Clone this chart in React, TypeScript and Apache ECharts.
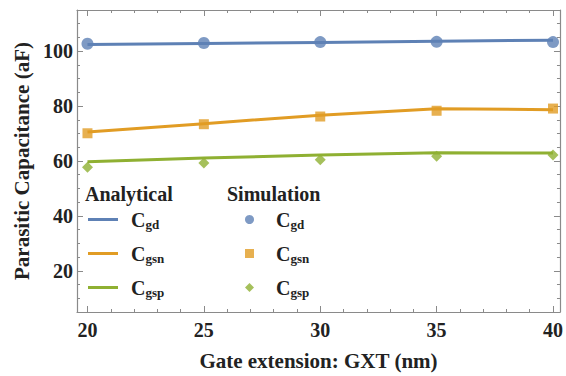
import React, { useEffect, useRef } from "react";
import * as echarts from "echarts";

const gateExtension = [20, 25, 30, 35, 40];
const xTickLabels = [20, 25, 30, 35, 40];
const xMinorTicks = [21, 22, 23, 24, 26, 27, 28, 29, 31, 32, 33, 34, 36, 37, 38, 39];
const yTickLabels = [20, 40, 60, 80, 100];
const yMinorTicks = [10, 15, 25, 30, 35, 45, 50, 55, 65, 70, 75, 85, 90, 95, 105, 110];

const analyticalCgd = [102.4, 102.8, 103.2, 103.6, 104.0];
const analyticalCgsn = [70.6, 73.6, 76.7, 79.0, 78.7];
const analyticalCgsp = [59.7, 61.1, 62.2, 63.0, 62.9];

const simulationCgd = [102.7, 103.0, 103.3, 103.4, 103.3];
const simulationCgsn = [70.1, 73.4, 76.2, 78.3, 79.1];
const simulationCgsp = [57.7, 59.3, 60.5, 61.7, 62.2];

const BLUE = "#5E81B5";
const ORANGE = "#E19C24";
const GREEN = "#8FB032";
const FONT = "Liberation Serif";
const AXIS_COLOR = "#8a8a8a";

const pairs = (ys: number[]) => gateExtension.map((x, i) => [x, ys[i]]);

const subLabel: Record<string, string> = {
  "Cgd (analytical)": "gd",
  "Cgsn (analytical)": "gsn",
  "Cgsp (analytical)": "gsp",
  "Cgd (simulation)": "gd",
  "Cgsn (simulation)": "gsn",
  "Cgsp (simulation)": "gsp",
};

export default function App() {
  const ref = useRef<HTMLDivElement>(null);
  useEffect(() => {
    if (!ref.current) return;
    const chart = echarts.init(ref.current, undefined, { renderer: "svg" });
    const xMin = 19.55;
    const xMax = 40.3;
    const yMin = 5;
    const yMax = 115;
    const axisLine = { show: true, lineStyle: { color: AXIS_COLOR, width: 1.2 } };
    const mkX = (position: "bottom" | "top", ticks: number[], len: number, labels: boolean, line: boolean) => ({
      type: "value",
      position,
      min: xMin,
      max: xMax,
      gridIndex: 0,
      axisLine: line ? axisLine : { show: false },
      axisTick: { show: true, inside: true, length: len, customValues: ticks, lineStyle: { color: AXIS_COLOR } },
      axisLabel: labels
        ? { show: true, customValues: xTickLabels, fontFamily: FONT, fontWeight: "bold", fontSize: 20, color: "#222", margin: 8 }
        : { show: false },
      splitLine: { show: false },
      name: labels ? "Gate extension: GXT (nm)" : "",
      nameLocation: "middle",
      nameGap: 38,
      nameTextStyle: { fontFamily: FONT, fontWeight: "bold", fontSize: 21, color: "#222" },
    });
    const mkY = (position: "left" | "right", ticks: number[], len: number, labels: boolean, line: boolean) => ({
      type: "value",
      position,
      min: yMin,
      max: yMax,
      gridIndex: 0,
      axisLine: line ? axisLine : { show: false },
      axisTick: { show: true, inside: true, length: len, customValues: ticks, lineStyle: { color: AXIS_COLOR } },
      axisLabel: labels
        ? { show: true, customValues: yTickLabels, fontFamily: FONT, fontWeight: "bold", fontSize: 20, color: "#222", margin: 4 }
        : { show: false },
      splitLine: { show: false },
      name: labels ? "Parasitic Capacitance (aF)" : "",
      nameLocation: "middle",
      nameGap: 40,
      nameTextStyle: { fontFamily: FONT, fontWeight: "bold", fontSize: 21, color: "#222" },
    });

    const richText = {
      c: { fontFamily: FONT, fontWeight: "bold", fontSize: 20, color: "#222", lineHeight: 24 },
      s: { fontFamily: FONT, fontWeight: "bold", fontSize: 13, color: "#222", lineHeight: 24, padding: [10, 0, 0, 0] },
    };

    const lineSeries = (name: string, data: number[], color: string) => ({
      name,
      type: "line",
      data: pairs(data),
      symbol: "none",
      lineStyle: { color, width: 3 },
      itemStyle: { color },
      z: 2,
    });
    const scatterSeries = (name: string, data: number[], color: string, symbol: string, size: number) => ({
      name,
      type: "scatter",
      data: pairs(data),
      symbol,
      symbolSize: size,
      itemStyle: { color },
      z: 3,
    });

    chart.setOption({
      animation: false,
      backgroundColor: "#ffffff",
      grid: { left: 77, right: 2, top: 10, bottom: 63 },
      xAxis: [
        mkX("bottom", xTickLabels, 6, true, true),
        mkX("bottom", xMinorTicks, 3, false, false),
        mkX("top", xTickLabels, 6, false, true),
        mkX("top", xMinorTicks, 3, false, false),
      ],
      yAxis: [
        mkY("left", yTickLabels, 6, true, true),
        mkY("left", yMinorTicks, 3, false, false),
        mkY("right", yTickLabels, 6, false, true),
        mkY("right", yMinorTicks, 3, false, false),
      ],
      legend: [
        {
          orient: "vertical",
          left: 88,
          top: 208,
          padding: 0,
          itemGap: 11,
          itemWidth: 30,
          itemHeight: 3,
          data: [
            { name: "Cgd (analytical)", icon: "rect" },
            { name: "Cgsn (analytical)", icon: "rect" },
            { name: "Cgsp (analytical)", icon: "rect" },
          ],
          formatter: (n: string) => `{c|C}{s|${subLabel[n]}}`,
          textStyle: { rich: richText, padding: [0, 0, 0, 8] },
          selectedMode: false,
        },
        {
          orient: "vertical",
          left: 245,
          top: 208,
          padding: 0,
          itemGap: 11,
          itemWidth: 9,
          itemHeight: 9,
          data: ["Cgd (simulation)", "Cgsn (simulation)", "Cgsp (simulation)"],
          formatter: (n: string) => `{c|C}{s|${subLabel[n]}}`,
          textStyle: { rich: richText, padding: [0, 0, 0, 17] },
          selectedMode: false,
        },
      ],
      graphic: [
        {
          type: "text",
          left: 85,
          top: 184,
          style: { text: "Analytical", fontFamily: FONT, fontWeight: "bold", fontSize: 20, fill: "#222" },
        },
        {
          type: "text",
          left: 227,
          top: 184,
          style: { text: "Simulation", fontFamily: FONT, fontWeight: "bold", fontSize: 20, fill: "#222" },
        },
      ],
      series: [
        lineSeries("Cgd (analytical)", analyticalCgd, BLUE),
        lineSeries("Cgsn (analytical)", analyticalCgsn, ORANGE),
        lineSeries("Cgsp (analytical)", analyticalCgsp, GREEN),
        scatterSeries("Cgd (simulation)", simulationCgd, BLUE, "circle", 12),
        scatterSeries("Cgsn (simulation)", simulationCgsn, ORANGE, "rect", 10),
        scatterSeries("Cgsp (simulation)", simulationCgsp, GREEN, "diamond", 11),
      ],
    });
    return () => chart.dispose();
  }, []);
  return <div ref={ref} style={{ width: 566, height: 376, position: "fixed", left: 0, top: 0 }} />;
}
